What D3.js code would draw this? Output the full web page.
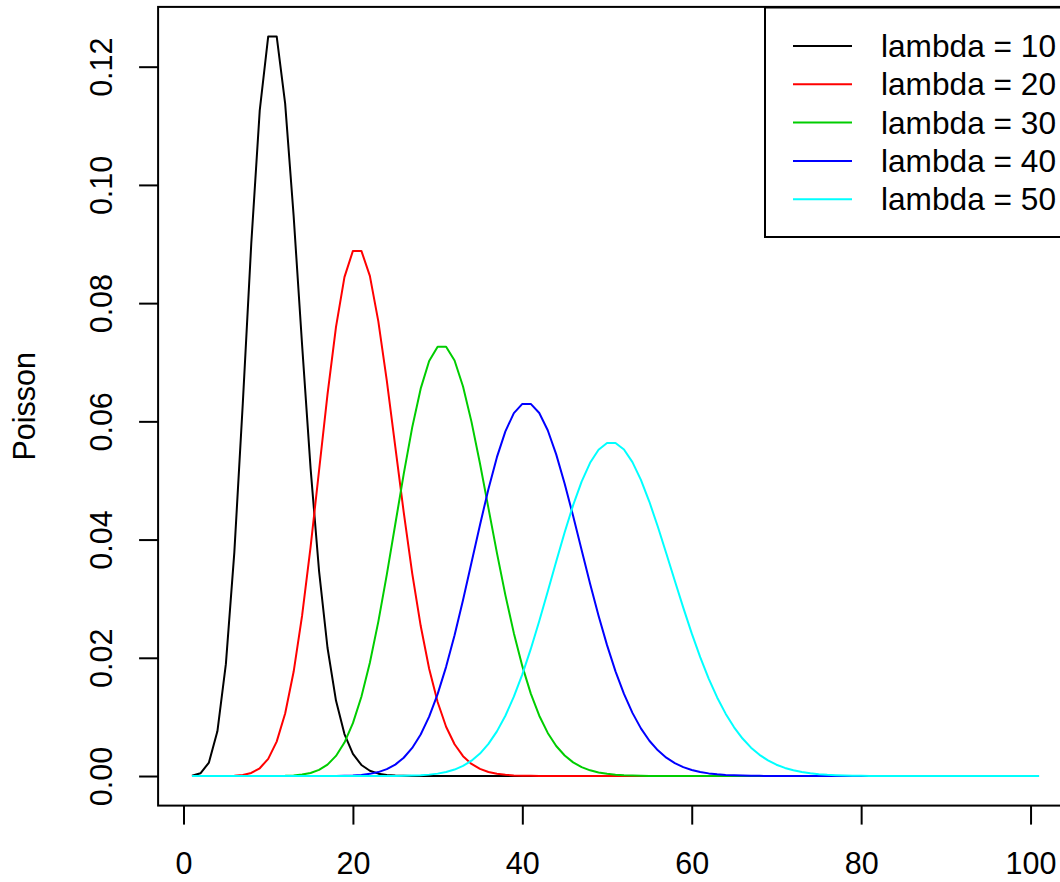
<!DOCTYPE html>
<html><head><meta charset="utf-8">
<script src="https://cdn.jsdelivr.net/npm/d3@7"></script>
<style>
html,body{margin:0;padding:0;background:#fff;}
svg{display:block;font-family:"Liberation Sans",Arial,sans-serif;}
</style></head>
<body>
<script>
// x positions (index 1..101, i.e. k = 0..100 plotted at k+1)
const xVals = [
  1,2,3,4,5,6,7,8,9,10, 11,12,13,14,15,16,17,18,19,20,
  21,22,23,24,25,26,27,28,29,30, 31,32,33,34,35,36,37,38,39,40,
  41,42,43,44,45,46,47,48,49,50, 51,52,53,54,55,56,57,58,59,60,
  61,62,63,64,65,66,67,68,69,70, 71,72,73,74,75,76,77,78,79,80,
  81,82,83,84,85,86,87,88,89,90, 91,92,93,94,95,96,97,98,99,100, 101
];
const lambda10 = [
  0.0000454,0.000454,0.00227,0.00757,0.01892,0.03783,0.06306,0.09008,0.11260,0.12511,
  0.12511,0.11374,0.09478,0.07291,0.05208,0.03472,0.02170,0.01276,0.00709,0.00373,
  0.00187,0.00089,0.00040,0.00018,0.000073,0.000029,0.000011,0.000004,0.0000015,0.0000005,
  0,0,0,0,0,0,0,0,0,0, 0,0,0,0,0,0,0,0,0,0, 0,0,0,0,0,0,0,0,0,0,
  0,0,0,0,0,0,0,0,0,0, 0,0,0,0,0,0,0,0,0,0, 0,0,0,0,0,0,0,0,0,0,
  0,0,0,0,0,0,0,0,0,0, 0
];
const lambda20 = [
  0.000000002,0.00000004,0.0000004,0.0000027,0.0000137,0.000055,0.000183,0.000524,0.00131,0.00291,
  0.00582,0.01058,0.01763,0.02712,0.03874,0.05165,0.06456,0.07595,0.08439,0.08884,
  0.08884,0.08461,0.07691,0.06688,0.05573,0.04459,0.03430,0.02541,0.01815,0.01252,
  0.00834,0.00538,0.00336,0.00204,0.00120,0.000686,0.000381,0.000206,0.000108,0.0000556,
  0.0000278,0.0000136,0.0000065,0.000003,0.0000014,0.0000006,0,0,0,0,
  0,0,0,0,0,0,0,0,0,0, 0,0,0,0,0,0,0,0,0,0, 0,0,0,0,0,0,0,0,0,0,
  0,0,0,0,0,0,0,0,0,0, 0,0,0,0,0,0,0,0,0,0, 0
];
const lambda30 = [
  0,0,0,0,0,0,0,0.0000004,0.0000015,0.0000051,
  0.0000153,0.0000416,0.000104,0.000240,0.000514,0.00103,0.00193,0.00340,0.00566,0.00894,
  0.01341,0.01916,0.02612,0.03407,0.04259,0.05111,0.05898,0.06553,0.07021,0.07263,
  0.07263,0.07029,0.06590,0.05991,0.05286,0.04531,0.03776,0.03061,0.02417,0.01859,
  0.01394,0.01020,0.00729,0.00508,0.00347,0.00231,0.00151,0.000963,0.000602,0.000368,
  0.000221,0.000130,0.0000750,0.0000425,0.0000236,0.0000129,0.0000069,0.0000036,0.0000019,0.0000010,
  0,0,0,0,0,0,0,0,0,0, 0,0,0,0,0,0,0,0,0,0,
  0,0,0,0,0,0,0,0,0,0, 0,0,0,0,0,0,0,0,0,0, 0
];
const lambda40 = [
  0,0,0,0,0,0,0,0,0,0,
  0,0,0,0,0.0000013,0.0000035,0.0000087,0.0000205,0.0000456,0.0000961,
  0.000192,0.000366,0.000666,0.00116,0.00193,0.00309,0.00475,0.00703,0.01004,0.01385,
  0.01847,0.02383,0.02979,0.03611,0.04248,0.04855,0.05394,0.05831,0.06138,0.06295,
  0.06295,0.06141,0.05849,0.05441,0.04946,0.04397,0.03823,0.03254,0.02712,0.02214,
  0.01771,0.01389,0.01068,0.00806,0.00597,0.00434,0.00310,0.00218,0.00150,0.00102,
  0.000680,0.000446,0.000288,0.000183,0.000114,0.0000702,0.0000425,0.0000254,0.0000149,0.0000087,
  0.0000049,0.0000028,0.0000015,0.0000008,0,0,0,0,0,0,
  0,0,0,0,0,0,0,0,0,0, 0,0,0,0,0,0,0,0,0,0, 0
];
const lambda50 = [
  0,0,0,0,0,0,0,0,0,0, 0,0,0,0,0,0,0,0,0,0,
  0.0000008,0.0000018,0.0000041,0.0000089,0.0000185,0.0000371,0.0000713,0.000132,0.000236,0.000406,
  0.000677,0.00109,0.00171,0.00259,0.00380,0.00543,0.00755,0.01020,0.01342,0.01720,
  0.02150,0.02622,0.03122,0.03630,0.04125,0.04583,0.04981,0.05299,0.05520,0.05633,
  0.05633,0.05523,0.05310,0.05010,0.04639,0.04217,0.03765,0.03303,0.02848,0.02413,
  0.02011,0.01648,0.01329,0.01055,0.00824,0.00634,0.00480,0.00358,0.00264,0.00191,
  0.00137,0.000962,0.000668,0.000458,0.000309,0.000206,0.000136,0.0000882,0.0000565,0.0000358,
  0.0000224,0.0000138,0.0000084,0.0000051,0.000003,0.0000018,0.000001,0,0,0,
  0,0,0,0,0,0,0,0,0,0, 0
];
const seriesNames = ["lambda = 10","lambda = 20","lambda = 30","lambda = 40","lambda = 50"];
const seriesColors = ["#000000","#FF0000","#00CD00","#0000FF","#00FFFF"];
const xTicks = [0,20,40,60,80,100];
const yTicks = [0,0.02,0.04,0.06,0.08,0.10,0.12];
const yTickLabels = ["0.00","0.02","0.04","0.06","0.08","0.10","0.12"];
const yLabel = "Poisson";

const allSeries = [lambda10, lambda20, lambda30, lambda40, lambda50];

const W = 1060, H = 882;
const svg = d3.select("body").append("svg").attr("width", W).attr("height", H);
svg.append("rect").attr("width", W).attr("height", H).attr("fill", "#fff");

const x = d3.scaleLinear().domain([-3, 105]).range([158.1, 1072.9]);
const y = d3.scaleLinear().domain([-0.0050044, 0.1301144]).range([805.6, 6.9]);

const FS = 30.5;

// series lines
const line = d3.line().x((d, i) => x(xVals[i])).y(d => y(d));
allSeries.forEach((s, i) => {
  svg.append("path").datum(s).attr("d", line)
    .attr("fill", "none").attr("stroke", seriesColors[i])
    .attr("stroke-width", 2).attr("stroke-linejoin", "round");
});

// plot box
svg.append("rect")
  .attr("x", x.range()[0]).attr("y", y.range()[1])
  .attr("width", x.range()[1] - x.range()[0])
  .attr("height", y.range()[0] - y.range()[1])
  .attr("fill", "none").attr("stroke", "#000").attr("stroke-width", 2);

// x axis
const xAxis = d3.axisBottom(x).tickValues(xTicks).tickSize(19).tickPadding(0).tickFormat(d3.format("d"));
const gx = svg.append("g").attr("transform", `translate(0,${y.range()[0]})`).call(xAxis);
gx.select(".domain").remove();
gx.selectAll(".tick line").attr("stroke", "#000").attr("stroke-width", 2);
gx.selectAll(".tick text").attr("font-size", FS).attr("fill", "#000")
  .attr("font-family", "'Liberation Sans', Arial, sans-serif")
  .attr("y", 47).attr("dy", "0.71em");

// y axis
const yAxis = d3.axisLeft(y).tickValues(yTicks).tickSize(19).tickFormat((d, i) => yTickLabels[i]);
const gy = svg.append("g").attr("transform", `translate(${x.range()[0]},0)`).call(yAxis);
gy.select(".domain").remove();
gy.selectAll(".tick line").attr("stroke", "#000").attr("stroke-width", 2);
gy.selectAll(".tick text").attr("font-size", FS).attr("fill", "#000")
  .attr("font-family", "'Liberation Sans', Arial, sans-serif")
  .attr("x", null).attr("dy", null)
  .attr("text-anchor", "middle")
  .attr("transform", `translate(${112 - x.range()[0]},0) rotate(-90)`);

// y label
svg.append("text").attr("transform", `translate(35,${(y.range()[0] + y.range()[1]) / 2}) rotate(-90)`)
  .attr("text-anchor", "middle").attr("font-size", FS).attr("fill", "#000").text(yLabel);

// legend
const lg = svg.append("g");
lg.append("rect").attr("x", 765).attr("y", 7.5).attr("width", x.range()[1] - 765).attr("height", 229.5)
  .attr("fill", "#fff").attr("stroke", "#000").attr("stroke-width", 2);
seriesNames.forEach((nm, i) => {
  const ly = 46 + i * 38.3;
  lg.append("line").attr("x1", 793).attr("x2", 852).attr("y1", ly).attr("y2", ly)
    .attr("stroke", seriesColors[i]).attr("stroke-width", 2);
  lg.append("text").attr("x", 881).attr("y", ly + 11).attr("font-size", FS).attr("fill", "#000")
    .attr("textLength", 175).attr("lengthAdjust", "spacingAndGlyphs").text(nm);
});
</script>
</body></html>
